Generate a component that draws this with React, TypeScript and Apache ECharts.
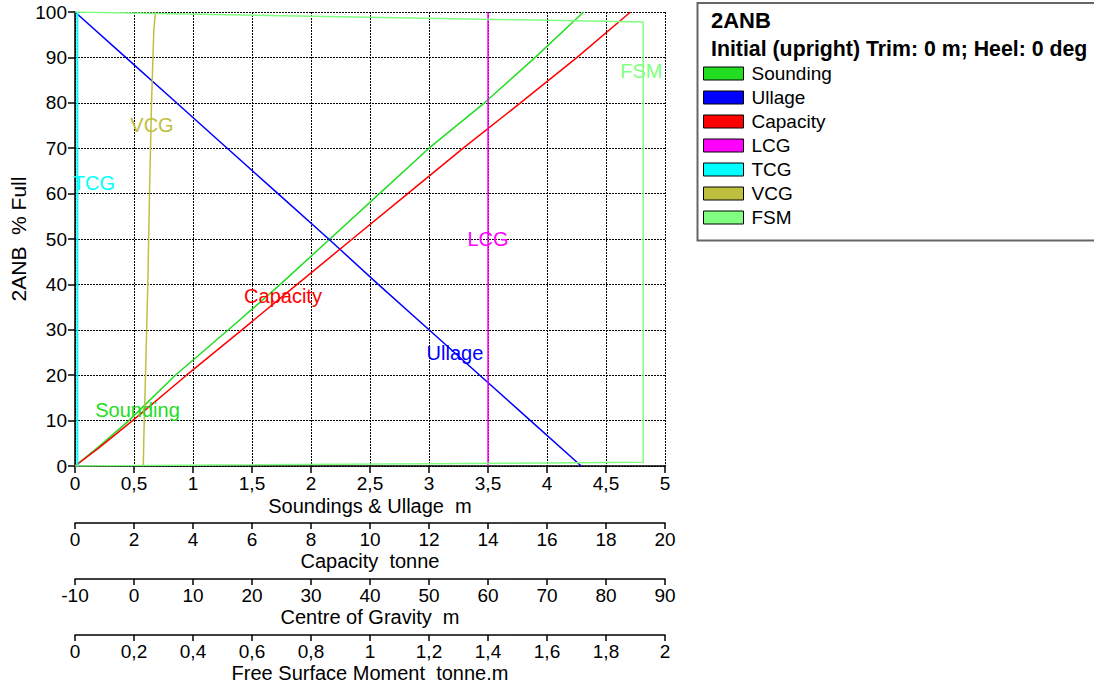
import React, { useEffect, useRef } from 'react';
import * as echarts from 'echarts';

// ---- data (percent full vs. quantity) ----
const SOUNDING_PCT = [0, 4.2, 10, 20, 30, 40, 50, 60, 70, 80, 90, 100];
const SOUNDING_M = [0, 0.2, 0.456, 0.85, 1.3, 1.74, 2.16, 2.58, 3.0, 3.47, 3.9, 4.31];

const ULLAGE_PCT = [0, 10, 20, 30, 40, 50, 60, 70, 80, 90, 100];
const ULLAGE_M = [4.29, 3.86, 3.43, 3.0, 2.57, 2.15, 1.72, 1.29, 0.86, 0.43, 0];

const CAPACITY_PCT = [0, 4, 10, 20, 30, 40, 50, 60, 70, 80, 90, 100];
const CAPACITY_T = [0, 0.81, 1.95, 3.78, 5.66, 7.53, 9.4, 11.28, 13.16, 15.1, 17.02, 18.83];

const LCG_PCT = [0, 100];
const LCG_M = [60, 60];

const TCG_PCT = [0, 100];
const TCG_M = [-9.6, -9.6];

const VCG_PCT = [0, 6, 20, 40, 60, 80, 96, 100];
const VCG_M = [1.58, 1.66, 1.95, 2.34, 2.63, 2.97, 3.36, 3.64];

const FSM_PCT = [0, 0.8, 97.8, 100];
const FSM_TM = [0, 1.926, 1.926, 0];

// label anchors in data coordinates [x, %full]
const LABEL_SOUNDING = [0.53, 12.4];
const LABEL_ULLAGE = [3.22, 24.8];
const LABEL_CAPACITY = [7.05, 37.4];
const LABEL_LCG = [60, 49.9];
const LABEL_TCG = [-6.8, 62.4];
const LABEL_VCG = [3.05, 75.2];
const LABEL_FSM = [1.92, 86.9];

const TITLE = '2ANB';
const SUBTITLE = 'Initial (upright) Trim: 0 m; Heel: 0 deg';

const FONT = '"Liberation Sans", Arial, sans-serif';

const COLORS = {
  Sounding: '#22dd22',
  Ullage: '#0000ff',
  Capacity: '#ff0000',
  LCG: '#ff00ff',
  TCG: '#00ffff',
  VCG: '#bfbf3f',
  FSM: '#80ff80',
};

const pairs = (xs: number[], ys: number[]) => xs.map((x, i) => [x, ys[i]]);

const comma = (v: number) => String(Math.round(v * 10) / 10).replace('.', ',');

function makeSeries(
  name: keyof typeof COLORS,
  xAxisIndex: number,
  data: number[][],
  label: number[],
  width = 1.5
) {
  const color = COLORS[name];
  return {
    name,
    type: 'line',
    xAxisIndex,
    yAxisIndex: 0,
    data,
    showSymbol: false,
    symbol: 'none',
    color,
    itemStyle: { color },
    lineStyle: { color, width },
    markPoint: {
      symbol: 'circle',
      symbolSize: 1,
      itemStyle: { color: 'rgba(0,0,0,0)' },
      data: [
        {
          coord: label,
          label: {
            show: true,
            position: 'inside',
            formatter: name,
            color,
            fontSize: 20,
            fontFamily: FONT,
          },
        },
      ],
    },
  };
}

const extraAxis = (
  min: number,
  max: number,
  interval: number,
  offset: number,
  name: string,
  fmt?: (v: number) => string
) => ({
  type: 'value',
  position: 'bottom',
  gridIndex: 0,
  offset,
  min,
  max,
  interval,
  name,
  nameLocation: 'middle',
  nameGap: 28,
  nameMoveOverlap: false,
  nameTextStyle: { fontSize: 20, color: '#000', fontFamily: FONT },
  axisLine: { show: true, onZero: false, lineStyle: { color: '#000', width: 1.5 } },
  axisTick: { show: true, inside: false, length: 6, lineStyle: { color: '#000', width: 1.5 } },
  axisLabel: { margin: 7, fontSize: 19, color: '#000', fontFamily: FONT, formatter: fmt },
  splitLine: { show: false },
});

export default function App() {
  const ref = useRef<HTMLDivElement>(null);
  useEffect(() => {
    const chart = echarts.init(ref.current!, null, { renderer: 'svg' });
    const option: any = {
      animation: false,
      backgroundColor: '#fff',
      textStyle: { fontFamily: FONT },
      grid: {
        left: 75,
        top: 12,
        width: 590,
        height: 454,
        containLabel: false,
        outerBoundsMode: 'none',
      },
      xAxis: [
        {
          type: 'value',
          position: 'bottom',
          min: 0,
          max: 5,
          interval: 0.5,
          name: 'Soundings & Ullage  m',
          nameLocation: 'middle',
          nameGap: 30,
          nameMoveOverlap: false,
          nameTextStyle: { fontSize: 20, color: '#000', fontFamily: FONT },
          axisLine: { show: true, onZero: false, lineStyle: { color: '#000', width: 1.5 } },
          axisTick: { show: true, length: 7, lineStyle: { color: '#000', width: 1.5 } },
          axisLabel: { margin: 8, fontSize: 19, color: '#000', fontFamily: FONT, formatter: comma },
          splitLine: { show: true, lineStyle: { color: '#000', width: 1, type: [2, 1] } },
        },
        extraAxis(0, 20, 2, 57, 'Capacity  tonne'),
        extraAxis(-10, 90, 10, 113, 'Centre of Gravity  m'),
        extraAxis(0, 2, 0.2, 169, 'Free Surface Moment  tonne.m', comma),
      ],
      yAxis: [
        {
          type: 'value',
          min: 0,
          max: 100,
          interval: 10,
          name: '2ANB  % Full',
          nameLocation: 'middle',
          nameGap: 46,
          nameRotate: 90,
          nameMoveOverlap: false,
          nameTextStyle: { fontSize: 21, color: '#000', fontFamily: FONT },
          axisLine: { show: true, onZero: false, lineStyle: { color: '#000', width: 1.5 } },
          axisTick: { show: true, length: 7, lineStyle: { color: '#000', width: 1.5 } },
          axisLabel: { margin: 8, fontSize: 19, color: '#000', fontFamily: FONT },
          splitLine: { show: true, lineStyle: { color: '#000', width: 1, type: [2, 1] } },
        },
      ],
      legend: {
        orient: 'vertical',
        left: 703,
        top: 64,
        padding: 0,
        itemWidth: 40,
        itemHeight: 13,
        itemGap: 5,
        icon: 'rect',
        selectedMode: false,
        itemStyle: { borderColor: '#000', borderWidth: 1 },
        textStyle: { fontSize: 19, color: '#000', fontFamily: FONT, padding: [0, 0, 0, 3] },
        data: ['Sounding', 'Ullage', 'Capacity', 'LCG', 'TCG', 'VCG', 'FSM'],
      },
      graphic: [
        {
          type: 'rect',
          left: 695,
          top: 0.5,
          shape: { x: 0, y: 0, width: 440, height: 237.5 },
          style: { fill: 'none', stroke: '#666', lineWidth: 2 },
          silent: true,
        },
        {
          type: 'text',
          x: 711,
          y: 20,
          style: {
            text: TITLE,
            fontSize: 22,
            fontWeight: 'bold',
            fontFamily: FONT,
            fill: '#000',
            verticalAlign: 'middle',
          },
        },
        {
          type: 'text',
          x: 711,
          y: 49,
          style: {
            text: SUBTITLE,
            fontSize: 21.3,
            fontWeight: 'bold',
            fontFamily: FONT,
            fill: '#000',
            verticalAlign: 'middle',
          },
        },
      ],
      series: [
        makeSeries('Sounding', 0, pairs(SOUNDING_M, SOUNDING_PCT), LABEL_SOUNDING),
        makeSeries('Ullage', 0, pairs(ULLAGE_M, ULLAGE_PCT), LABEL_ULLAGE),
        makeSeries('Capacity', 1, pairs(CAPACITY_T, CAPACITY_PCT), LABEL_CAPACITY),
        makeSeries('LCG', 2, pairs(LCG_M, LCG_PCT), LABEL_LCG),
        makeSeries('TCG', 2, pairs(TCG_M, TCG_PCT), LABEL_TCG, 2),
        makeSeries('VCG', 2, pairs(VCG_M, VCG_PCT), LABEL_VCG),
        makeSeries('FSM', 3, pairs(FSM_TM, FSM_PCT), LABEL_FSM),
      ],
    };
    chart.setOption(option);
    return () => chart.dispose();
  }, []);
  return (
    <div
      ref={ref}
      style={{ position: 'fixed', left: 0, top: 0, width: 1094, height: 688, background: '#fff' }}
    />
  );
}
